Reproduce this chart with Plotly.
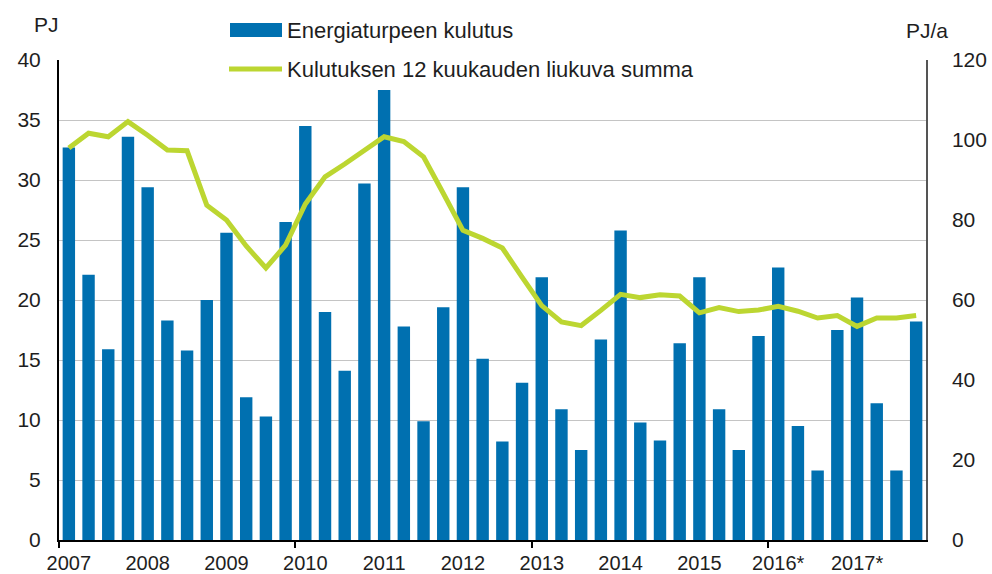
import plotly.graph_objects as go

years = ["2007", "2008", "2009", "2010", "2011", "2012", "2013", "2014", "2015", "2016*", "2017*"]
quarters = ["Q1", "Q2", "Q3", "Q4"]
categories = [f"{y} {q}" for y in years for q in quarters]

consumption = [
    32.7, 22.1, 15.9, 33.6,
    29.4, 18.3, 15.8, 20.0,
    25.6, 11.9, 10.3, 26.5,
    34.5, 19.0, 14.1, 29.7,
    37.5, 17.8, 9.9, 19.4,
    29.4, 15.1, 8.2, 13.1,
    21.9, 10.9, 7.5, 16.7,
    25.8, 9.8, 8.3, 16.4,
    21.9, 10.9, 7.5, 17.0,
    22.7, 9.5, 5.8, 17.5,
    20.2, 11.4, 5.8, 18.2,
]

rolling_sum = [
    98.0, 101.7, 100.8, 104.6,
    101.2, 97.5, 97.3, 83.7,
    80.0, 73.5, 68.0, 73.7,
    84.0, 90.8, 94.0, 97.5,
    100.8, 99.6, 95.8, 86.7,
    77.4, 75.4, 73.0, 65.7,
    58.6, 54.5, 53.6, 57.4,
    61.4, 60.6, 61.3, 61.0,
    56.8, 58.1, 57.1, 57.5,
    58.4, 57.2, 55.5, 56.1,
    53.4, 55.5, 55.5, 56.1,
]

bar_name = "Energiaturpeen kulutus"
line_name = "Kulutuksen 12 kuukauden liukuva summa"
left_unit = "PJ"
right_unit = "PJ/a"

BLUE = "#0070b0"
GREEN = "#bcd631"
FONT = "Liberation Sans, Arial, sans-serif"
TXT = "#1e1e1e"

xs = list(range(len(categories)))
year_ticks = [i for i in xs if i % 4 == 0]
year_labels = [years[i // 4] for i in year_ticks]

fig = go.Figure()
fig.add_trace(go.Bar(x=xs, y=consumption, marker=dict(color=BLUE, line=dict(width=0)),
                     name=bar_name, showlegend=False, yaxis="y"))
fig.add_trace(go.Scatter(x=xs, y=rolling_sum, mode="lines", line=dict(color=GREEN, width=5),
                         name=line_name, showlegend=False, yaxis="y2"))

W, H = 992, 574
L, R, T, B = 59, 66, 60, 34
pw = W - L - R
ph = H - T - B

def px_x(px):
    return (px - L) / pw

def px_y(py):
    return (H - B - py) / ph

fig.update_layout(
    width=W, height=H,
    margin=dict(l=L, r=R, t=T, b=B, pad=0, autoexpand=False),
    paper_bgcolor="white", plot_bgcolor="white",
    font=dict(family=FONT, size=20, color=TXT),
    bargap=0.37,
    showlegend=False,
    xaxis=dict(
        range=[-0.5, len(categories) - 0.5],
        tickmode="array", tickvals=year_ticks, ticktext=year_labels,
        ticks="", showgrid=False, zeroline=False,
        showline=True, linecolor="black", linewidth=2,
        tickfont=dict(size=20),
        ticklabelstandoff=4,
        minor=dict(tickmode="array", tickvals=[-0.5, 11.5, 23.5, 35.5],
                   ticks="outside", ticklen=6, tickwidth=2, tickcolor="black", showgrid=False),
    ),
    yaxis=dict(
        range=[0, 40], dtick=5, showgrid=True, gridcolor="#c4c4c4", gridwidth=1,
        zeroline=False, showline=True, linecolor="black", linewidth=2,
        ticks="", tickfont=dict(size=21), ticklabelstandoff=12,
    ),
    yaxis2=dict(
        range=[0, 120], dtick=20, overlaying="y", side="right", showgrid=False,
        zeroline=False, showline=True, linecolor="#555555", linewidth=1.5,
        ticks="", tickfont=dict(size=21), ticklabelstandoff=20,
    ),
)

# white patch behind the legend (hides the top gridline like the original legend box)
fig.add_shape(type="rect", xref="paper", yref="paper", layer="between",
              x0=px_x(97), x1=px_x(862), y0=px_y(64), y1=px_y(56),
              fillcolor="white", line=dict(width=0))

# legend: swatches + labels
fig.add_shape(type="rect", xref="paper", yref="paper",
              x0=px_x(230), x1=px_x(282), y0=px_y(37), y1=px_y(23),
              fillcolor=BLUE, line=dict(width=0))
fig.add_shape(type="line", xref="paper", yref="paper",
              x0=px_x(229), x1=px_x(282), y0=px_y(69), y1=px_y(69),
              line=dict(color=GREEN, width=5))
fig.add_annotation(xref="paper", yref="paper", x=px_x(285), y=px_y(30),
                   text=bar_name, showarrow=False, xanchor="left", yanchor="middle",
                   font=dict(size=22, color=TXT))
fig.add_annotation(xref="paper", yref="paper", x=px_x(285), y=px_y(69),
                   text=line_name, showarrow=False, xanchor="left", yanchor="middle",
                   font=dict(size=22, color=TXT))

# axis unit labels
fig.add_annotation(xref="paper", yref="paper", x=px_x(46), y=px_y(24),
                   text=left_unit, showarrow=False, xanchor="center", yanchor="middle",
                   font=dict(size=21, color=TXT))
fig.add_annotation(xref="paper", yref="paper", x=px_x(927), y=px_y(30),
                   text=right_unit, showarrow=False, xanchor="center", yanchor="middle",
                   font=dict(size=21, color=TXT))

fig.write_html("out.html", config={"displayModeBar": False},
               post_script="document.body.style.margin='0';document.body.style.overflow='hidden';")
